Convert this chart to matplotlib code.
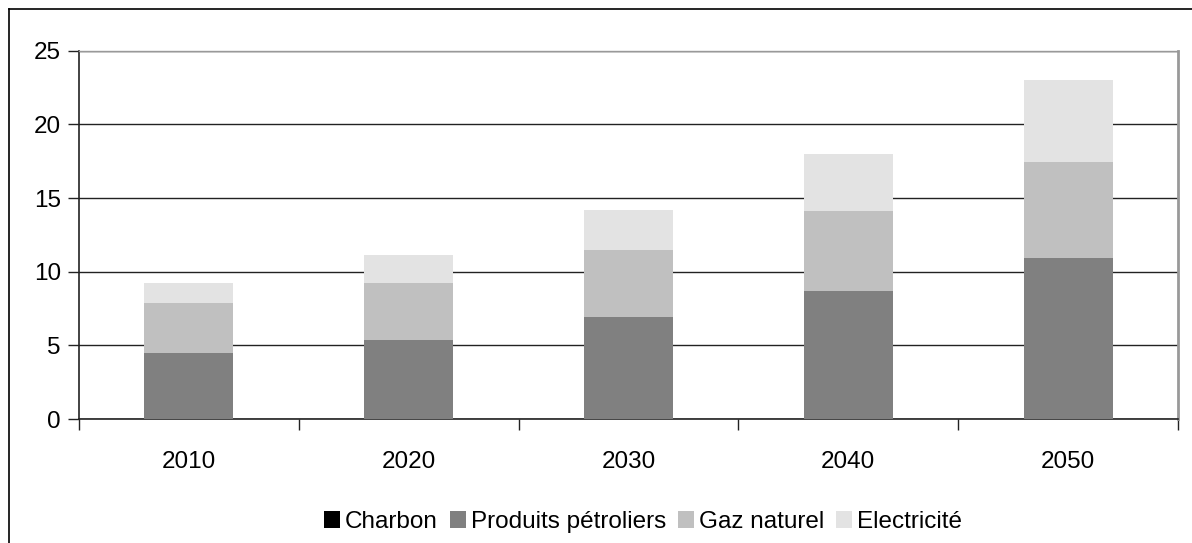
import matplotlib
matplotlib.use('Agg')
import matplotlib.pyplot as plt
from matplotlib.lines import Line2D
import numpy as np

# Data
years      = ['2010', '2020', '2030', '2040', '2050']
charbon    = [0.0, 0.0, 0.0, 0.0, 0.0]
petrole    = [4.48, 5.36, 6.91, 8.71, 10.95]
gaz        = [3.38, 3.85, 4.53, 5.43, 6.52]
elec       = [1.35, 1.89, 2.72, 3.87, 5.56]

labels     = ['Charbon', 'Produits pétroliers', 'Gaz naturel', 'Electricité']
colors     = ['#000000', '#808080', '#c0c0c0', '#e3e3e3']
series     = [charbon, petrole, gaz, elec]

plt.rcParams['font.family'] = ['Liberation Sans', 'DejaVu Sans']
fsize = 17.5

fig = plt.figure(figsize=(11.92, 5.43), dpi=100)
ax  = fig.add_axes([79/1192, 1 - 419/543, (1178 - 79)/1192, (419 - 50.7)/543])

x      = np.arange(len(years))
bottom = np.zeros(len(years))
for vals, lab, col in zip(series, labels, colors):
   ax.bar(x, vals, width=0.405, bottom=bottom, color=col, label=lab, zorder=3)
   bottom += np.array(vals)

ax.set_xlim(-0.5, len(years) - 0.5)
ax.set_ylim(0, 25)
ax.set_yticks(range(0, 26, 5))
ax.yaxis.grid(True, color='#222222', linewidth=1.0, zorder=0)
ax.set_axisbelow(True)

ax.set_xticks(x)
ax.set_xticklabels(years)
ax.set_xticks(np.arange(-0.5, len(years)), minor=True)
ax.tick_params(axis='x', which='major', length=0, pad=23, labelsize=fsize)
ax.tick_params(axis='x', which='minor', length=8, width=1, direction='out', color='#222222')
ax.tick_params(axis='y', length=8, width=1, direction='out', color='#222222', labelsize=fsize, pad=5)

for s in ['left', 'bottom']:
   ax.spines[s].set_color('#222222')
   ax.spines[s].set_linewidth(1.2)
ax.spines['top'].set_color('#999999')
ax.spines['top'].set_linewidth(1.0)
ax.spines['right'].set_color('#999999')
ax.spines['right'].set_linewidth(2.0)

# outer frame of the picture (top and left edges visible)
fig.add_artist(Line2D([8.5/1192, 8.5/1192], [0, 1 - 9/543], color='black', linewidth=1.2))
fig.add_artist(Line2D([8.5/1192, 1], [1 - 9/543, 1 - 9/543], color='black', linewidth=1.2))

fig.legend(loc='center', bbox_to_anchor=(643/1192, 1 - 522/543), ncol=4, frameon=False,
           fontsize=fsize, handlelength=0.65, handleheight=0.65, handletextpad=0.2,
           columnspacing=0.5, borderaxespad=0)

fig.savefig('out.png', dpi=100)
